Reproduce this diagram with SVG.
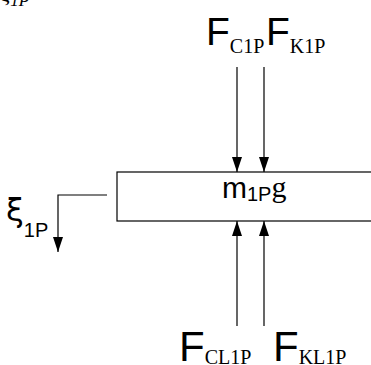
<svg xmlns="http://www.w3.org/2000/svg" width="371" height="365" viewBox="0 0 371 365">
<defs>
<marker id="ah2" viewBox="0 0 15 10" refX="15" refY="5" markerWidth="15" markerHeight="10" markerUnits="userSpaceOnUse" orient="auto">
<path d="M0,0 L15,5 L0,10 Z" fill="#000"/>
</marker>
</defs>
<style>
.big{font-family:"Liberation Sans",Arial,sans-serif;fill:#000}
.sub{font-family:"Liberation Serif","Times New Roman",serif;fill:#000}
.ln{stroke:#000;stroke-width:1.2;fill:none}
</style>
<rect width="371" height="365" fill="#fff"/>
<g id="clipped-label">
<text x="0" y="1" font-family="Liberation Serif, serif" font-style="italic" font-size="24">ξ<tspan font-size="17" dy="5">1P</tspan></text>
</g>
<g id="mass">
<rect x="117" y="172" width="260" height="49" fill="#fff" stroke="#000" stroke-width="1.2"/>
<text x="222" y="198" font-family="Liberation Sans, Arial, sans-serif" font-size="30">m<tspan font-size="20" dy="3">1P</tspan><tspan font-family="Liberation Serif, serif" font-size="30" dy="-4">g</tspan></text>
</g>
<g id="label-FC1P">
<text x="206" y="45" font-family="Liberation Sans, Arial, sans-serif" font-size="39">F<tspan font-family="Liberation Serif, serif" font-size="20" dy="8">C1P</tspan></text>
</g>
<g id="label-FK1P">
<text x="266" y="45" font-family="Liberation Sans, Arial, sans-serif" font-size="39">F<tspan font-family="Liberation Serif, serif" font-size="20" dy="8">K1P</tspan></text>
</g>
<g id="label-FCL1P">
<text x="179" y="361" font-family="Liberation Sans, Arial, sans-serif" font-size="42">F<tspan font-family="Liberation Serif, serif" font-size="20" dy="3">CL1P</tspan></text>
</g>
<g id="label-FKL1P">
<text x="273" y="361" font-family="Liberation Sans, Arial, sans-serif" font-size="42">F<tspan font-family="Liberation Serif, serif" font-size="20" dy="3">KL1P</tspan></text>
</g>
<g id="label-xi">
<text x="6" y="221" font-family="DejaVu Sans, sans-serif" font-size="32">ξ<tspan font-family="Liberation Sans, Arial, sans-serif" font-size="20" dy="16">1P</tspan></text>
</g>
<g id="connectors">
<line class="ln" x1="237" y1="67" x2="237" y2="172" marker-end="url(#ah2)"/>
<line class="ln" x1="264" y1="67" x2="264" y2="172" marker-end="url(#ah2)"/>
<line class="ln" x1="237" y1="326" x2="237" y2="221" marker-end="url(#ah2)"/>
<line class="ln" x1="264" y1="326" x2="264" y2="221" marker-end="url(#ah2)"/>
<path class="ln" d="M107,195 H58 V252" stroke="#222" marker-end="url(#ah2)"/>
</g>
</svg>
